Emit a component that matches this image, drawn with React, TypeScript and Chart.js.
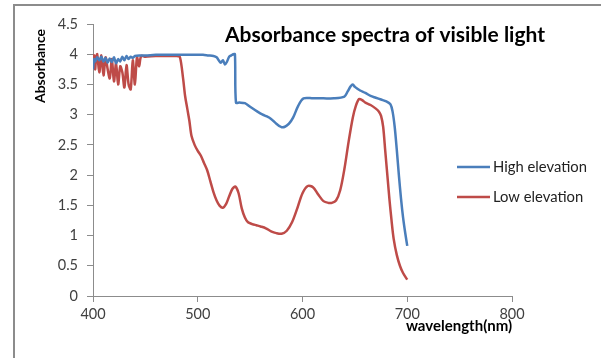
import React, { useEffect, useRef } from "react";
import { Chart, registerables } from "chart.js";

Chart.register(...registerables);

const titleText = "Absorbance spectra of visible light";
const xAxisTitle = "wavelength(nm)";
const yAxisTitle = "Absorbance";
const seriesNames = ["High elevation", "Low elevation"];

const highWavelength = [
  400, 401, 402, 404, 406, 408, 410, 412, 414, 416, 418, 420, 422, 424, 426, 428, 430, 432, 434, 436, 438, 440,
  445, 450, 460, 470, 480, 490, 500, 505, 510, 515, 518, 520, 522, 524, 526, 528, 530, 532, 534, 535.5, 536.5,
  540, 545, 550, 557, 562, 566, 570, 575, 581, 587, 591, 596, 601, 610, 620, 630, 640, 643, 646, 648, 650, 655,
  660, 665, 670, 675, 680, 684, 686, 688, 690, 692, 694, 696, 698, 700,
];
const highValues = [
  3.75, 3.92, 3.88, 3.95, 3.9, 3.96, 3.88, 3.94, 3.86, 3.93, 3.87, 3.95, 3.85, 3.92, 3.88, 3.96, 3.9, 3.97, 3.92,
  3.96, 3.94, 3.97, 3.98, 3.98, 3.99, 3.99, 3.99, 3.99, 3.99, 3.99, 3.98, 3.97, 3.95, 3.9, 3.86, 3.9, 3.83, 3.88,
  3.96, 3.98, 4.0, 4.0, 3.2, 3.2, 3.19, 3.13, 3.05, 3.0, 2.97, 2.93, 2.85, 2.79, 2.85, 2.95, 3.15, 3.27, 3.27,
  3.27, 3.27, 3.3, 3.38, 3.47, 3.5, 3.46, 3.4, 3.36, 3.31, 3.28, 3.25, 3.22, 3.17, 3.05, 2.8, 2.42, 2.0, 1.62,
  1.3, 1.05, 0.83,
];

const lowWavelength = [
  400, 401, 402, 403, 404, 406, 408, 410, 412, 414, 416, 418, 420, 422, 424, 426, 428, 430, 432, 434, 436, 438,
  440, 442, 444, 446, 450, 460, 470, 480, 483, 486, 488, 490, 492, 494, 497, 500, 503, 506, 509, 512, 515, 518,
  521, 524, 527, 530, 533, 536, 539, 542, 545, 548, 552, 556, 560, 565, 570, 575, 580, 585, 590, 595, 600, 605,
  610, 615, 620, 625, 628, 632, 636, 640, 644, 648, 651, 654, 657, 660, 665, 670, 673, 675, 677, 679, 681, 683,
  685, 687, 690, 693, 696, 700,
];
const lowValues = [
  3.85, 3.98, 3.75, 3.95, 4.0, 3.7, 3.98, 3.65, 3.95, 3.75, 3.6, 3.92, 3.55, 3.85, 3.5, 3.8, 3.7, 3.45, 3.82,
  3.5, 3.42, 3.9, 3.5, 3.95, 3.8, 3.97, 3.96, 3.97, 3.97, 3.97, 3.95, 3.6, 3.3, 3.1, 2.9, 2.65, 2.5, 2.4, 2.32,
  2.2, 2.08, 1.9, 1.72, 1.58, 1.49, 1.46, 1.52, 1.65, 1.77, 1.81, 1.7, 1.45, 1.3, 1.22, 1.19, 1.17, 1.15, 1.12,
  1.07, 1.04, 1.03, 1.08, 1.22, 1.45, 1.7, 1.82, 1.8, 1.68, 1.57, 1.54, 1.54, 1.58, 1.75, 2.1, 2.55, 2.95, 3.15,
  3.26, 3.24, 3.2, 3.16, 3.1, 3.05, 2.98, 2.8, 2.4, 2.0, 1.6, 1.25, 0.95, 0.68, 0.5, 0.38, 0.27,
];

const blue = "#4a7ebb";
const red = "#be4b48";
const FONT = "Lato, 'Open Sans', sans-serif";

const decorPlugin = {
  id: "decor",
  afterDraw(chart: any) {
    const ctx = chart.ctx as CanvasRenderingContext2D;
    ctx.save();
    // outer border (top & left)
    ctx.strokeStyle = "#8c8c8c";
    ctx.lineWidth = 2;
    ctx.beginPath();
    ctx.moveTo(14, 358);
    ctx.lineTo(14, 5);
    ctx.lineTo(601, 5);
    ctx.stroke();

    // title
    ctx.fillStyle = "#000";
    ctx.font = `bold 21px ${FONT}`;
    ctx.textAlign = "center";
    ctx.textBaseline = "middle";
    ctx.fillText(titleText, 385, 35);

    // y axis title
    ctx.save();
    ctx.translate(40, 66);
    ctx.rotate(-Math.PI / 2);
    ctx.font = `bold 14px ${FONT}`;
    ctx.fillText(yAxisTitle, 0, 0);
    ctx.restore();

    // x axis title
    ctx.font = `bold 15px ${FONT}`;
    ctx.textAlign = "center";
    ctx.fillText(xAxisTitle, 459, 326);

    // legend
    const items = [
      { name: seriesNames[0], color: blue, y: 167 },
      { name: seriesNames[1], color: red, y: 197 },
    ];
    ctx.font = `14.8px ${FONT}`;
    ctx.textAlign = "left";
    for (const it of items) {
      ctx.strokeStyle = it.color;
      ctx.lineWidth = 2.5;
      ctx.beginPath();
      ctx.moveTo(457, it.y);
      ctx.lineTo(490, it.y);
      ctx.stroke();
      ctx.fillStyle = "#222";
      ctx.fillText(it.name, 493, it.y);
    }
    ctx.restore();
  },
};

export default function App() {
  const ref = useRef<HTMLCanvasElement | null>(null);
  useEffect(() => {
    document.body.style.margin = "0";
    if (!ref.current) return;
    const chart = new Chart(ref.current, {
      type: "line",
      data: {
        datasets: [
          {
            label: seriesNames[0],
            data: highWavelength.map((x, i) => ({ x, y: highValues[i] })),
            borderColor: blue,
            borderWidth: 2.5,
            pointRadius: 0,
            tension: 0.3,
          },
          {
            label: seriesNames[1],
            data: lowWavelength.map((x, i) => ({ x, y: lowValues[i] })),
            borderColor: red,
            borderWidth: 2.5,
            pointRadius: 0,
            tension: 0.3,
          },
        ],
      },
      options: {
        responsive: false,
        animation: false,
        layout: { padding: { left: 20, top: 24, right: 94, bottom: 32 } },
        plugins: { legend: { display: false }, tooltip: { enabled: false }, title: { display: false } },
        scales: {
          x: {
            type: "linear",
            min: 400,
            max: 800,
            ticks: { stepSize: 100, color: "#404040", font: { family: FONT, size: 14.5 }, padding: 4 },
            grid: { drawOnChartArea: false, drawTicks: true, tickLength: 6, color: "#8c8c8c" },
            border: { color: "#8c8c8c" },
            afterFit: (s: any) => {
              s.height = 30;
            },
          },
          y: {
            min: 0,
            max: 4.5,
            ticks: {
              stepSize: 0.5,
              color: "#404040",
              font: { family: FONT, size: 14.5 },
              padding: 9,
              callback: (v: any) => String(v),
            },
            grid: { drawOnChartArea: false, drawTicks: true, tickLength: 6, color: "#8c8c8c" },
            border: { color: "#8c8c8c" },
            afterFit: (s: any) => {
              s.width = 73;
            },
          },
        },
      },
      plugins: [decorPlugin],
    });
    return () => chart.destroy();
  }, []);
  return <canvas ref={ref} width={606} height={358} />;
}
